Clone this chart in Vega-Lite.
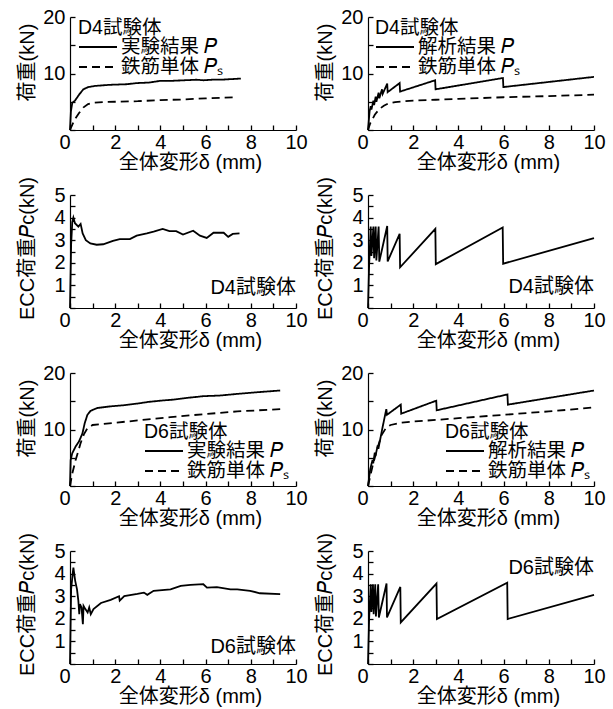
{
  "$schema": "https://vega.github.io/schema/vega-lite/v6.json",
  "padding": {"left": 16, "top": 7, "right": 5, "bottom": 5},
  "background": "white",
  "datasets": {
    "p1": [
      {"x": 0, "y": 0, "s": "実験結果 𝑃"}, {"x": 0.04, "y": 3.3, "s": "実験結果 𝑃"}, {"x": 0.1, "y": 4.8, "s": "実験結果 𝑃"}, {"x": 0.22, "y": 5.2, "s": "実験結果 𝑃"}, {"x": 0.41, "y": 6.3, "s": "実験結果 𝑃"}, {"x": 0.59, "y": 7.2, "s": "実験結果 𝑃"}, {"x": 0.81, "y": 7.6, "s": "実験結果 𝑃"}, {"x": 1.1, "y": 7.8, "s": "実験結果 𝑃"}, {"x": 1.78, "y": 8.0, "s": "実験結果 𝑃"}, {"x": 2.5, "y": 8.1, "s": "実験結果 𝑃"}, {"x": 2.96, "y": 8.3, "s": "実験結果 𝑃"}, {"x": 3.5, "y": 8.4, "s": "実験結果 𝑃"}, {"x": 4.0, "y": 8.7, "s": "実験結果 𝑃"}, {"x": 4.5, "y": 8.7, "s": "実験結果 𝑃"}, {"x": 5.04, "y": 8.8, "s": "実験結果 𝑃"}, {"x": 5.6, "y": 8.9, "s": "実験結果 𝑃"}, {"x": 5.9, "y": 8.8, "s": "実験結果 𝑃"}, {"x": 6.3, "y": 8.9, "s": "実験結果 𝑃"}, {"x": 6.67, "y": 8.9, "s": "実験結果 𝑃"}, {"x": 7.1, "y": 9.0, "s": "実験結果 𝑃"}, {"x": 7.56, "y": 9.1, "s": "実験結果 𝑃"},
      {"x": 0, "y": 0, "s": "鉄筋単体 𝑃ₛ"}, {"x": 0.2, "y": 1.8, "s": "鉄筋単体 𝑃ₛ"}, {"x": 0.4, "y": 3.0, "s": "鉄筋単体 𝑃ₛ"}, {"x": 0.6, "y": 4.0, "s": "鉄筋単体 𝑃ₛ"}, {"x": 0.8, "y": 4.6, "s": "鉄筋単体 𝑃ₛ"}, {"x": 1.0, "y": 4.8, "s": "鉄筋単体 𝑃ₛ"}, {"x": 1.5, "y": 4.95, "s": "鉄筋単体 𝑃ₛ"}, {"x": 2, "y": 5.0, "s": "鉄筋単体 𝑃ₛ"}, {"x": 3, "y": 5.1, "s": "鉄筋単体 𝑃ₛ"}, {"x": 4, "y": 5.3, "s": "鉄筋単体 𝑃ₛ"}, {"x": 5, "y": 5.4, "s": "鉄筋単体 𝑃ₛ"}, {"x": 6, "y": 5.6, "s": "鉄筋単体 𝑃ₛ"}, {"x": 7.3, "y": 5.8, "s": "鉄筋単体 𝑃ₛ"}
    ],
    "p2": [
      {"x": 0, "y": 0, "s": "解析結果 𝑃"}, {"x": 0.07, "y": 3.3, "s": "解析結果 𝑃"}, {"x": 0.12, "y": 4.2, "s": "解析結果 𝑃"}, {"x": 0.15, "y": 3.6, "s": "解析結果 𝑃"}, {"x": 0.24, "y": 5.2, "s": "解析結果 𝑃"}, {"x": 0.27, "y": 4.4, "s": "解析結果 𝑃"}, {"x": 0.34, "y": 5.9, "s": "解析結果 𝑃"}, {"x": 0.37, "y": 5.0, "s": "解析結果 𝑃"}, {"x": 0.47, "y": 6.6, "s": "解析結果 𝑃"}, {"x": 0.5, "y": 5.6, "s": "解析結果 𝑃"}, {"x": 0.62, "y": 7.2, "s": "解析結果 𝑃"}, {"x": 0.65, "y": 6.4, "s": "解析結果 𝑃"}, {"x": 0.85, "y": 8.2, "s": "解析結果 𝑃"}, {"x": 0.87, "y": 6.7, "s": "解析結果 𝑃"}, {"x": 1.4, "y": 8.3, "s": "解析結果 𝑃"}, {"x": 1.42, "y": 6.8, "s": "解析結果 𝑃"}, {"x": 2.97, "y": 8.8, "s": "解析結果 𝑃"}, {"x": 2.99, "y": 7.2, "s": "解析結果 𝑃"}, {"x": 5.97, "y": 9.2, "s": "解析結果 𝑃"}, {"x": 5.99, "y": 7.6, "s": "解析結果 𝑃"}, {"x": 10, "y": 9.4, "s": "解析結果 𝑃"},
      {"x": 0, "y": 0, "s": "鉄筋単体 𝑃ₛ"}, {"x": 0.1, "y": 1.2, "s": "鉄筋単体 𝑃ₛ"}, {"x": 0.3, "y": 2.7, "s": "鉄筋単体 𝑃ₛ"}, {"x": 0.5, "y": 3.7, "s": "鉄筋単体 𝑃ₛ"}, {"x": 0.7, "y": 4.3, "s": "鉄筋単体 𝑃ₛ"}, {"x": 0.9, "y": 4.7, "s": "鉄筋単体 𝑃ₛ"}, {"x": 1.2, "y": 4.95, "s": "鉄筋単体 𝑃ₛ"}, {"x": 1.6, "y": 5.1, "s": "鉄筋単体 𝑃ₛ"}, {"x": 2, "y": 5.2, "s": "鉄筋単体 𝑃ₛ"}, {"x": 3, "y": 5.35, "s": "鉄筋単体 𝑃ₛ"}, {"x": 4, "y": 5.5, "s": "鉄筋単体 𝑃ₛ"}, {"x": 5, "y": 5.65, "s": "鉄筋単体 𝑃ₛ"}, {"x": 6, "y": 5.8, "s": "鉄筋単体 𝑃ₛ"}, {"x": 8, "y": 6.0, "s": "鉄筋単体 𝑃ₛ"}, {"x": 10, "y": 6.25, "s": "鉄筋単体 𝑃ₛ"}
    ],
    "p3": [
      {"x": 0, "y": 0}, {"x": 0.05, "y": 2.8}, {"x": 0.1, "y": 3.8}, {"x": 0.15, "y": 4.0}, {"x": 0.22, "y": 3.75}, {"x": 0.37, "y": 3.6}, {"x": 0.47, "y": 3.72}, {"x": 0.56, "y": 3.3}, {"x": 0.7, "y": 3.0}, {"x": 0.9, "y": 2.86}, {"x": 1.18, "y": 2.8}, {"x": 1.47, "y": 2.82}, {"x": 1.9, "y": 2.97}, {"x": 2.2, "y": 3.05}, {"x": 2.65, "y": 3.05}, {"x": 2.95, "y": 3.2}, {"x": 3.4, "y": 3.3}, {"x": 3.7, "y": 3.38}, {"x": 4.1, "y": 3.5}, {"x": 4.4, "y": 3.4}, {"x": 4.7, "y": 3.4}, {"x": 5.0, "y": 3.25}, {"x": 5.45, "y": 3.42}, {"x": 5.75, "y": 3.2}, {"x": 6.05, "y": 3.1}, {"x": 6.35, "y": 3.33}, {"x": 6.8, "y": 3.33}, {"x": 7.0, "y": 3.15}, {"x": 7.2, "y": 3.28}, {"x": 7.5, "y": 3.3}
    ],
    "p4": [
      {"x": 0, "y": 0}, {"x": 0.05, "y": 1.9}, {"x": 0.12, "y": 3.6}, {"x": 0.15, "y": 2.3}, {"x": 0.24, "y": 3.6}, {"x": 0.27, "y": 2.2}, {"x": 0.34, "y": 3.6}, {"x": 0.37, "y": 2.1}, {"x": 0.47, "y": 3.6}, {"x": 0.5, "y": 2.05}, {"x": 0.85, "y": 3.63}, {"x": 0.87, "y": 2.06}, {"x": 1.4, "y": 3.28}, {"x": 1.42, "y": 1.8}, {"x": 2.98, "y": 3.5}, {"x": 3.0, "y": 1.94}, {"x": 5.96, "y": 3.56}, {"x": 5.98, "y": 1.96}, {"x": 10, "y": 3.09}
    ],
    "p5": [
      {"x": 0, "y": 0, "s": "実験結果 𝑃"}, {"x": 0.03, "y": 4.6, "s": "実験結果 𝑃"}, {"x": 0.1, "y": 5.8, "s": "実験結果 𝑃"}, {"x": 0.25, "y": 7.0, "s": "実験結果 𝑃"}, {"x": 0.4, "y": 7.9, "s": "実験結果 𝑃"}, {"x": 0.55, "y": 9.3, "s": "実験結果 𝑃"}, {"x": 0.65, "y": 11.1, "s": "実験結果 𝑃"}, {"x": 0.77, "y": 12.6, "s": "実験結果 𝑃"}, {"x": 0.91, "y": 13.3, "s": "実験結果 𝑃"}, {"x": 1.2, "y": 13.8, "s": "実験結果 𝑃"}, {"x": 1.8, "y": 14.1, "s": "実験結果 𝑃"}, {"x": 2.4, "y": 14.3, "s": "実験結果 𝑃"}, {"x": 3.0, "y": 14.6, "s": "実験結果 𝑃"}, {"x": 3.5, "y": 14.9, "s": "実験結果 𝑃"}, {"x": 4.0, "y": 15.1, "s": "実験結果 𝑃"}, {"x": 4.6, "y": 15.3, "s": "実験結果 𝑃"}, {"x": 5.2, "y": 15.6, "s": "実験結果 𝑃"}, {"x": 5.9, "y": 15.9, "s": "実験結果 𝑃"}, {"x": 6.6, "y": 16.0, "s": "実験結果 𝑃"}, {"x": 7.4, "y": 16.3, "s": "実験結果 𝑃"}, {"x": 8.3, "y": 16.6, "s": "実験結果 𝑃"}, {"x": 9.3, "y": 16.9, "s": "実験結果 𝑃"},
      {"x": 0, "y": 0, "s": "鉄筋単体 𝑃ₛ"}, {"x": 0.1, "y": 2.2, "s": "鉄筋単体 𝑃ₛ"}, {"x": 0.25, "y": 4.6, "s": "鉄筋単体 𝑃ₛ"}, {"x": 0.47, "y": 7.6, "s": "鉄筋単体 𝑃ₛ"}, {"x": 0.62, "y": 9.2, "s": "鉄筋単体 𝑃ₛ"}, {"x": 0.77, "y": 10.2, "s": "鉄筋単体 𝑃ₛ"}, {"x": 1.0, "y": 10.8, "s": "鉄筋単体 𝑃ₛ"}, {"x": 1.5, "y": 11.0, "s": "鉄筋単体 𝑃ₛ"}, {"x": 2, "y": 11.2, "s": "鉄筋単体 𝑃ₛ"}, {"x": 3.0, "y": 11.6, "s": "鉄筋単体 𝑃ₛ"}, {"x": 4.45, "y": 12.2, "s": "鉄筋単体 𝑃ₛ"}, {"x": 5.9, "y": 12.7, "s": "鉄筋単体 𝑃ₛ"}, {"x": 7.4, "y": 13.2, "s": "鉄筋単体 𝑃ₛ"}, {"x": 9.3, "y": 13.6, "s": "鉄筋単体 𝑃ₛ"}
    ],
    "p6": [
      {"x": 0, "y": 0, "s": "解析結果 𝑃"}, {"x": 0.1, "y": 3.0, "s": "解析結果 𝑃"}, {"x": 0.2, "y": 4.6, "s": "解析結果 𝑃"}, {"x": 0.23, "y": 4.0, "s": "解析結果 𝑃"}, {"x": 0.3, "y": 5.9, "s": "解析結果 𝑃"}, {"x": 0.33, "y": 5.3, "s": "解析結果 𝑃"}, {"x": 0.43, "y": 7.2, "s": "解析結果 𝑃"}, {"x": 0.46, "y": 6.6, "s": "解析結果 𝑃"}, {"x": 0.65, "y": 10.5, "s": "解析結果 𝑃"}, {"x": 0.81, "y": 13.6, "s": "解析結果 𝑃"}, {"x": 0.84, "y": 12.6, "s": "解析結果 𝑃"}, {"x": 1.45, "y": 14.4, "s": "解析結果 𝑃"}, {"x": 1.47, "y": 12.8, "s": "解析結果 𝑃"}, {"x": 3.02, "y": 15.1, "s": "解析結果 𝑃"}, {"x": 3.04, "y": 13.4, "s": "解析結果 𝑃"}, {"x": 6.17, "y": 16.2, "s": "解析結果 𝑃"}, {"x": 6.19, "y": 14.4, "s": "解析結果 𝑃"}, {"x": 10, "y": 16.9, "s": "解析結果 𝑃"},
      {"x": 0, "y": 0, "s": "鉄筋単体 𝑃ₛ"}, {"x": 0.2, "y": 3.5, "s": "鉄筋単体 𝑃ₛ"}, {"x": 0.4, "y": 6.5, "s": "鉄筋単体 𝑃ₛ"}, {"x": 0.6, "y": 9.0, "s": "鉄筋単体 𝑃ₛ"}, {"x": 0.8, "y": 10.3, "s": "鉄筋単体 𝑃ₛ"}, {"x": 1.0, "y": 10.8, "s": "鉄筋単体 𝑃ₛ"}, {"x": 1.5, "y": 11.2, "s": "鉄筋単体 𝑃ₛ"}, {"x": 2, "y": 11.4, "s": "鉄筋単体 𝑃ₛ"}, {"x": 3, "y": 11.7, "s": "鉄筋単体 𝑃ₛ"}, {"x": 4, "y": 12.0, "s": "鉄筋単体 𝑃ₛ"}, {"x": 6, "y": 12.6, "s": "鉄筋単体 𝑃ₛ"}, {"x": 8, "y": 13.2, "s": "鉄筋単体 𝑃ₛ"}, {"x": 10, "y": 13.9, "s": "鉄筋単体 𝑃ₛ"}
    ],
    "p7": [
      {"x": 0, "y": 0}, {"x": 0.05, "y": 3.3}, {"x": 0.12, "y": 4.0}, {"x": 0.15, "y": 4.26}, {"x": 0.19, "y": 3.97}, {"x": 0.23, "y": 3.68}, {"x": 0.31, "y": 3.3}, {"x": 0.37, "y": 2.8}, {"x": 0.41, "y": 2.2}, {"x": 0.44, "y": 2.65}, {"x": 0.51, "y": 2.5}, {"x": 0.57, "y": 1.76}, {"x": 0.6, "y": 2.57}, {"x": 0.68, "y": 2.43}, {"x": 0.78, "y": 2.28}, {"x": 0.85, "y": 2.5}, {"x": 0.92, "y": 2.2}, {"x": 1.04, "y": 2.43}, {"x": 1.37, "y": 2.7}, {"x": 1.8, "y": 2.84}, {"x": 2.17, "y": 3.0}, {"x": 2.2, "y": 2.8}, {"x": 2.4, "y": 3.0}, {"x": 2.98, "y": 3.1}, {"x": 3.27, "y": 3.16}, {"x": 3.42, "y": 3.06}, {"x": 3.7, "y": 3.24}, {"x": 4.45, "y": 3.3}, {"x": 4.9, "y": 3.46}, {"x": 5.33, "y": 3.5}, {"x": 5.9, "y": 3.53}, {"x": 6.06, "y": 3.38}, {"x": 6.5, "y": 3.4}, {"x": 7.1, "y": 3.3}, {"x": 7.4, "y": 3.3}, {"x": 7.97, "y": 3.24}, {"x": 8.4, "y": 3.13}, {"x": 9.3, "y": 3.09}
    ],
    "p8": [
      {"x": 0, "y": 0}, {"x": 0.05, "y": 2.0}, {"x": 0.12, "y": 3.53}, {"x": 0.15, "y": 2.3}, {"x": 0.22, "y": 3.53}, {"x": 0.25, "y": 2.2}, {"x": 0.32, "y": 3.53}, {"x": 0.35, "y": 2.1}, {"x": 0.45, "y": 3.53}, {"x": 0.48, "y": 2.06}, {"x": 0.82, "y": 3.56}, {"x": 0.84, "y": 2.06}, {"x": 1.43, "y": 3.41}, {"x": 1.45, "y": 1.84}, {"x": 3.03, "y": 3.56}, {"x": 3.05, "y": 1.99}, {"x": 6.16, "y": 3.6}, {"x": 6.18, "y": 1.99}, {"x": 10, "y": 3.06}
    ],
    "lab": [
      {"panel": "p3", "x": 10, "y": 0.9, "t": "D4試験体"},
      {"panel": "p4", "x": 10, "y": 0.95, "t": "D4試験体"},
      {"panel": "p7", "x": 10, "y": 0.75, "t": "D6試験体"},
      {"panel": "p8", "x": 10, "y": 4.23, "t": "D6試験体"}
    ]
  },
  "columns": 2,
  "spacing": {"row": 65, "column": 72},
  "bounds": "flush",
  "resolve": {"scale": {"strokeDash": "independent"}, "legend": {"strokeDash": "independent"}},
  "concat": [
    {
      "width": 226, "height": 113,
      "data": {"name": "p1"},
      "mark": {"type": "line", "color": "black", "strokeWidth": 1.8},
      "encoding": {
        "x": {"field": "x", "type": "quantitative", "scale": {"domain": [0, 10], "nice": false}, "axis": {"title": "全体変形δ (mm)", "values": [0,1,2,3,4,5,6,7,8,9,10], "labelOverlap": false, "labelFlush": false, "labelExpr": "datum.value % 2 === 0 ? format(datum.value, 'd') : ''", "labelAlign": {"condition": {"test": "datum.value === 0", "value": "right"}, "value": "center"}, "titleX": 120, "titleY": 22, "titleBaseline": "top"}},
        "y": {"field": "y", "type": "quantitative", "scale": {"domain": [0, 20], "nice": false}, "axis": {"title": "荷重(kN)", "values": [0,5,10,15,20], "labelOverlap": false, "labelExpr": "datum.value >= 10 && datum.value % 10 === 0 ? format(datum.value, 'd') : ''", "titleX": -33, "titleY": 45, "titleBaseline": "bottom"}},
        "strokeDash": {"field": "s", "type": "nominal", "scale": {"domain": ["実験結果 𝑃", "鉄筋単体 𝑃ₛ"], "range": [[1, 0], [8, 5]]}, "legend": {"title": "D4試験体", "orient": "none", "legendX": 8, "legendY": 2}}
      }
    },
    {
      "width": 226, "height": 113,
      "data": {"name": "p2"},
      "mark": {"type": "line", "color": "black", "strokeWidth": 1.8},
      "encoding": {
        "x": {"field": "x", "type": "quantitative", "scale": {"domain": [0, 10], "nice": false}, "axis": {"title": "全体変形δ (mm)", "values": [0,1,2,3,4,5,6,7,8,9,10], "labelOverlap": false, "labelFlush": false, "labelExpr": "datum.value % 2 === 0 ? format(datum.value, 'd') : ''", "labelAlign": {"condition": {"test": "datum.value === 0", "value": "right"}, "value": "center"}, "titleX": 120, "titleY": 22, "titleBaseline": "top"}},
        "y": {"field": "y", "type": "quantitative", "scale": {"domain": [0, 20], "nice": false}, "axis": {"title": "荷重(kN)", "values": [0,5,10,15,20], "labelOverlap": false, "labelExpr": "datum.value >= 10 && datum.value % 10 === 0 ? format(datum.value, 'd') : ''", "titleX": -33, "titleY": 45, "titleBaseline": "bottom"}},
        "strokeDash": {"field": "s", "type": "nominal", "scale": {"domain": ["解析結果 𝑃", "鉄筋単体 𝑃ₛ"], "range": [[1, 0], [8, 5]]}, "legend": {"title": "D4試験体", "orient": "none", "legendX": 7, "legendY": 2}}
      }
    },
    {
      "width": 226, "height": 113,
      "encoding": {
        "x": {"field": "x", "type": "quantitative", "scale": {"domain": [0, 10], "nice": false}, "axis": {"title": "全体変形δ (mm)", "values": [0,1,2,3,4,5,6,7,8,9,10], "labelOverlap": false, "labelFlush": false, "labelExpr": "datum.value % 2 === 0 ? format(datum.value, 'd') : ''", "labelAlign": {"condition": {"test": "datum.value === 0", "value": "right"}, "value": "center"}, "titleX": 120, "titleY": 22, "titleBaseline": "top"}},
        "y": {"field": "y", "type": "quantitative", "scale": {"domain": [0, 5], "nice": false}, "axis": {"title": "ECC荷重𝑃c(kN)", "values": [0,0.5,1,1.5,2,2.5,3,3.5,4,4.5,5], "labelOverlap": false, "labelExpr": "datum.value > 0 && datum.value % 1 === 0 ? format(datum.value, 'd') : ''", "titleX": -33, "titleY": 53, "titleBaseline": "bottom"}}
      },
      "layer": [
        {"data": {"name": "p3"}, "mark": {"type": "line", "color": "black", "strokeWidth": 1.8}},
        {"data": {"name": "lab"}, "transform": [{"filter": "datum.panel === 'p3'"}], "mark": {"type": "text", "align": "right", "baseline": "middle", "fontSize": 20, "color": "black"}, "encoding": {"text": {"field": "t"}}}
      ]
    },
    {
      "width": 226, "height": 113,
      "encoding": {
        "x": {"field": "x", "type": "quantitative", "scale": {"domain": [0, 10], "nice": false}, "axis": {"title": "全体変形δ (mm)", "values": [0,1,2,3,4,5,6,7,8,9,10], "labelOverlap": false, "labelFlush": false, "labelExpr": "datum.value % 2 === 0 ? format(datum.value, 'd') : ''", "labelAlign": {"condition": {"test": "datum.value === 0", "value": "right"}, "value": "center"}, "titleX": 120, "titleY": 22, "titleBaseline": "top"}},
        "y": {"field": "y", "type": "quantitative", "scale": {"domain": [0, 5], "nice": false}, "axis": {"title": "ECC荷重𝑃c(kN)", "values": [0,0.5,1,1.5,2,2.5,3,3.5,4,4.5,5], "labelOverlap": false, "labelExpr": "datum.value > 0 && datum.value % 1 === 0 ? format(datum.value, 'd') : ''", "titleX": -33, "titleY": 53, "titleBaseline": "bottom"}}
      },
      "layer": [
        {"data": {"name": "p4"}, "mark": {"type": "line", "color": "black", "strokeWidth": 1.8}},
        {"data": {"name": "lab"}, "transform": [{"filter": "datum.panel === 'p4'"}], "mark": {"type": "text", "align": "right", "baseline": "middle", "fontSize": 20, "color": "black"}, "encoding": {"text": {"field": "t"}}}
      ]
    },
    {
      "width": 226, "height": 113,
      "data": {"name": "p5"},
      "mark": {"type": "line", "color": "black", "strokeWidth": 1.8},
      "encoding": {
        "x": {"field": "x", "type": "quantitative", "scale": {"domain": [0, 10], "nice": false}, "axis": {"title": "全体変形δ (mm)", "values": [0,1,2,3,4,5,6,7,8,9,10], "labelOverlap": false, "labelFlush": false, "labelExpr": "datum.value % 2 === 0 ? format(datum.value, 'd') : ''", "labelAlign": {"condition": {"test": "datum.value === 0", "value": "right"}, "value": "center"}, "titleX": 120, "titleY": 22, "titleBaseline": "top"}},
        "y": {"field": "y", "type": "quantitative", "scale": {"domain": [0, 20], "nice": false}, "axis": {"title": "荷重(kN)", "values": [0,5,10,15,20], "labelOverlap": false, "labelExpr": "datum.value >= 10 && datum.value % 10 === 0 ? format(datum.value, 'd') : ''", "titleX": -33, "titleY": 45, "titleBaseline": "bottom"}},
        "strokeDash": {"field": "s", "type": "nominal", "scale": {"domain": ["実験結果 𝑃", "鉄筋単体 𝑃ₛ"], "range": [[1, 0], [8, 5]]}, "legend": {"title": "D6試験体", "orient": "none", "legendX": 74, "legendY": 50}}
      }
    },
    {
      "width": 226, "height": 113,
      "data": {"name": "p6"},
      "mark": {"type": "line", "color": "black", "strokeWidth": 1.8},
      "encoding": {
        "x": {"field": "x", "type": "quantitative", "scale": {"domain": [0, 10], "nice": false}, "axis": {"title": "全体変形δ (mm)", "values": [0,1,2,3,4,5,6,7,8,9,10], "labelOverlap": false, "labelFlush": false, "labelExpr": "datum.value % 2 === 0 ? format(datum.value, 'd') : ''", "labelAlign": {"condition": {"test": "datum.value === 0", "value": "right"}, "value": "center"}, "titleX": 120, "titleY": 22, "titleBaseline": "top"}},
        "y": {"field": "y", "type": "quantitative", "scale": {"domain": [0, 20], "nice": false}, "axis": {"title": "荷重(kN)", "values": [0,5,10,15,20], "labelOverlap": false, "labelExpr": "datum.value >= 10 && datum.value % 10 === 0 ? format(datum.value, 'd') : ''", "titleX": -33, "titleY": 45, "titleBaseline": "bottom"}},
        "strokeDash": {"field": "s", "type": "nominal", "scale": {"domain": ["解析結果 𝑃", "鉄筋単体 𝑃ₛ"], "range": [[1, 0], [8, 5]]}, "legend": {"title": "D6試験体", "orient": "none", "legendX": 77, "legendY": 50}}
      }
    },
    {
      "width": 226, "height": 113,
      "encoding": {
        "x": {"field": "x", "type": "quantitative", "scale": {"domain": [0, 10], "nice": false}, "axis": {"title": "全体変形δ (mm)", "values": [0,1,2,3,4,5,6,7,8,9,10], "labelOverlap": false, "labelFlush": false, "labelExpr": "datum.value % 2 === 0 ? format(datum.value, 'd') : ''", "labelAlign": {"condition": {"test": "datum.value === 0", "value": "right"}, "value": "center"}, "titleX": 120, "titleY": 22, "titleBaseline": "top"}},
        "y": {"field": "y", "type": "quantitative", "scale": {"domain": [0, 5], "nice": false}, "axis": {"title": "ECC荷重𝑃c(kN)", "values": [0,0.5,1,1.5,2,2.5,3,3.5,4,4.5,5], "labelOverlap": false, "labelExpr": "datum.value > 0 && datum.value % 1 === 0 ? format(datum.value, 'd') : ''", "titleX": -33, "titleY": 53, "titleBaseline": "bottom"}}
      },
      "layer": [
        {"data": {"name": "p7"}, "mark": {"type": "line", "color": "black", "strokeWidth": 1.8}},
        {"data": {"name": "lab"}, "transform": [{"filter": "datum.panel === 'p7'"}], "mark": {"type": "text", "align": "right", "baseline": "middle", "fontSize": 20, "color": "black"}, "encoding": {"text": {"field": "t"}}}
      ]
    },
    {
      "width": 226, "height": 113,
      "encoding": {
        "x": {"field": "x", "type": "quantitative", "scale": {"domain": [0, 10], "nice": false}, "axis": {"title": "全体変形δ (mm)", "values": [0,1,2,3,4,5,6,7,8,9,10], "labelOverlap": false, "labelFlush": false, "labelExpr": "datum.value % 2 === 0 ? format(datum.value, 'd') : ''", "labelAlign": {"condition": {"test": "datum.value === 0", "value": "right"}, "value": "center"}, "titleX": 120, "titleY": 22, "titleBaseline": "top"}},
        "y": {"field": "y", "type": "quantitative", "scale": {"domain": [0, 5], "nice": false}, "axis": {"title": "ECC荷重𝑃c(kN)", "values": [0,0.5,1,1.5,2,2.5,3,3.5,4,4.5,5], "labelOverlap": false, "labelExpr": "datum.value > 0 && datum.value % 1 === 0 ? format(datum.value, 'd') : ''", "titleX": -33, "titleY": 53, "titleBaseline": "bottom"}}
      },
      "layer": [
        {"data": {"name": "p8"}, "mark": {"type": "line", "color": "black", "strokeWidth": 1.8}},
        {"data": {"name": "lab"}, "transform": [{"filter": "datum.panel === 'p8'"}], "mark": {"type": "text", "align": "right", "baseline": "middle", "fontSize": 20, "color": "black"}, "encoding": {"text": {"field": "t"}}}
      ]
    }
  ],
  "config": {
    "view": {"stroke": null},
    "font": "Liberation Sans, Noto Sans CJK JP",
    "axis": {"domainColor": "black", "domainWidth": 1.2, "tickColor": "black", "tickWidth": 1.3, "tickSize": -5, "labelFont": "Liberation Sans", "labelFontSize": 20, "labelColor": "black", "titleFont": "Liberation Sans, Noto Sans CJK JP", "titleFontSize": 20, "titleFontWeight": "normal", "titleColor": "black", "grid": false},
    "axisX": {"labelPadding": 7},
    "axisY": {"labelPadding": 10},
    "legend": {"symbolType": "M-1,0L3,0", "symbolSize": 361, "symbolStrokeColor": "black", "symbolStrokeWidth": 1.8, "symbolFillColor": "transparent", "labelOffset": 22, "labelFont": "Liberation Sans, Noto Sans CJK JP", "labelFontSize": 19.5, "labelColor": "black", "labelLimit": 0, "titleFont": "Liberation Sans, Noto Sans CJK JP", "titleFontSize": 19.5, "titleFontWeight": "normal", "titleColor": "black", "titlePadding": -2, "rowPadding": -4, "padding": 0},
    "text": {"font": "Liberation Sans, Noto Sans CJK JP"}
  }
}
